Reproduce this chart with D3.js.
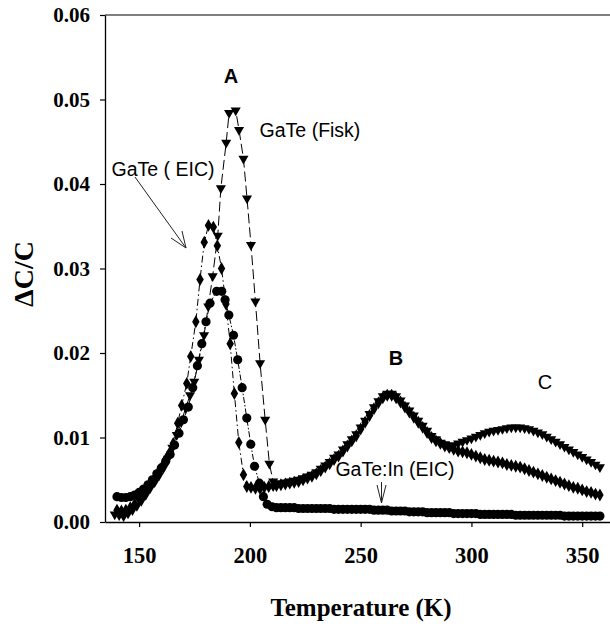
<!DOCTYPE html>
<html><head><meta charset="utf-8">
<script src="https://cdn.jsdelivr.net/npm/d3@7"></script>
<style>body{margin:0;background:#fff}svg{display:block}</style>
</head><body>
<svg id="c" width="610" height="628"></svg>
<script>
// ---- data ----
const xTicks = [150, 200, 250, 300, 350];
const yTicks = [0.00, 0.01, 0.02, 0.03, 0.04, 0.05, 0.06];

// GaTe (Fisk) - down triangles, dashed
const fiskT = [139,141,143,145,147,149,151,153,155,157,159,161,163,165,167,169,171,173,174.9,177,179.3,181.2,183.2,185.5,186.9,189.3,190.6,193.6,195.1,197.1,198.7,200.5,202.5,204.6,206.9,208.8,210.5,
  212,214,216,218,220,222,224,226,228,230,232,234,236,238,240,242,244,246,248,250,252,254,256,258,260,262,264,266,268,270,272,274,276,278,280,282,284,286,288,290,
  292,294,296,298,300,302,304,306,308,310,312,314,316,318,320,322,324,326,328,330,332,334,336,338,340,342,344,346,348,350,352,354,356,358];
const fiskV = [0.0009,0.0008,0.0007,0.0010,0.0014,0.0019,0.0025,0.0032,0.0040,0.0047,0.0055,0.0064,0.0075,0.0088,0.0103,0.0118,0.0135,0.0150,0.0166,0.0192,0.0221,0.0255,0.0291,0.0339,0.0395,0.0449,0.0484,0.0487,0.0464,0.0430,0.0383,0.0328,0.0261,0.0188,0.0121,0.0069,0.0048,
  0.0045,0.0046,0.0047,0.0048,0.0049,0.0050,0.0052,0.0054,0.0056,0.0059,0.0063,0.0067,0.0071,0.0076,0.0080,0.0086,0.0092,0.0098,0.0104,0.0112,0.0120,0.0128,0.0136,0.0143,0.0149,0.0152,0.0152,0.0149,0.0144,0.0138,0.0132,0.0126,0.0120,0.0114,0.0108,0.0102,0.0098,0.0094,0.0092,0.0090,
  0.0091,0.0093,0.0095,0.0097,0.0099,0.0101,0.0103,0.0105,0.0107,0.0108,0.0109,0.0110,0.0111,0.0112,0.0112,0.0112,0.0111,0.0110,0.0108,0.0106,0.0104,0.0101,0.0098,0.0095,0.0092,0.0089,0.0086,0.0083,0.0080,0.0077,0.0074,0.0071,0.0068,0.0065];

// GaTe (EIC) - diamonds, dash-dot
const eicT = [140,142,144,146,148,150,152,154,156,158,160,162,164,165.4,167.4,169.2,171.5,173.3,175.6,177.5,179.4,181.3,183.5,185.3,187.2,189.2,191.1,193,195,197.1,198.6,200.5,202.5,204.5,206.5,208.5,210.5,
  212,214,216,218,220,222,224,226,228,230,232,234,236,238,240,242,244,246,248,250,252,254,256,258,260,262,264,266,268,270,272,274,276,278,280,282,284,286,288,290,
  292,294,296,298,300,302,304,306,308,310,312,314,316,318,320,322,324,326,328,330,332,334,336,338,340,342,344,346,348,350,352,354,356,358];
const eicV = [0.0014,0.0013,0.0014,0.0017,0.0021,0.0027,0.0033,0.0040,0.0048,0.0056,0.0064,0.0074,0.0083,0.0093,0.0117,0.0138,0.0164,0.0196,0.0237,0.0287,0.0331,0.0351,0.0349,0.0327,0.0300,0.0258,0.0211,0.0152,0.0094,0.0056,0.0042,0.0041,0.0040,0.0040,0.0041,0.0042,0.0043,
  0.0043,0.0044,0.0045,0.0046,0.0047,0.0048,0.0050,0.0052,0.0054,0.0057,0.0061,0.0065,0.0069,0.0074,0.0078,0.0084,0.0090,0.0096,0.0102,0.0110,0.0118,0.0126,0.0134,0.0141,0.0147,0.0150,0.0150,0.0147,0.0142,0.0136,0.0130,0.0124,0.0118,0.0112,0.0106,0.0100,0.0096,0.0093,0.0090,0.0088,
  0.0086,0.0084,0.0083,0.0082,0.0080,0.0078,0.0076,0.0074,0.0073,0.0072,0.0071,0.0070,0.0068,0.0067,0.0066,0.0065,0.0063,0.0061,0.0059,0.0057,0.0055,0.0053,0.0051,0.0049,0.0047,0.0045,0.0043,0.0041,0.0040,0.0038,0.0036,0.0035,0.0033,0.0032];

// GaTe:In (EIC) - circles
const inT = [140,142,144,146,148,150,152,154,156,158,160,162,164,166,168,170,172.2,174.2,176.3,178.3,180.2,182,185,187.3,188.8,190.5,192.6,194.5,196.5,198.6,200.4,202.1,204.3,206.1,207.8,210,
  212,214,216,218,220,222,224,226,228,230,232,234,236,238,240,242,244,246,248,250,252,254,256,258,260,262,264,266,268,270,272,274,276,278,280,282,284,286,288,290,
  292,294,296,298,300,302,304,306,308,310,312,314,316,318,320,322,324,326,328,330,332,334,336,338,340,342,344,346,348,350,352,354,356,358];
const inV = [0.0030,0.0029,0.0029,0.0030,0.0032,0.0035,0.0039,0.0044,0.0050,0.0057,0.0064,0.0072,0.0080,0.0091,0.0105,0.0121,0.0136,0.0159,0.0185,0.0211,0.0237,0.0259,0.0273,0.0273,0.0263,0.0245,0.0221,0.0192,0.0159,0.0123,0.0092,0.0066,0.0046,0.0030,0.0021,0.0018,
  0.0017,0.0017,0.0017,0.0017,0.0017,0.0016,0.0016,0.0016,0.0016,0.0016,0.0016,0.0016,0.0016,0.0015,0.0015,0.0015,0.0015,0.0015,0.0015,0.0015,0.0015,0.0015,0.0014,0.0014,0.0014,0.0014,0.0013,0.0013,0.0013,0.0013,0.0012,0.0012,0.0012,0.0012,0.0011,0.0011,0.0011,0.0011,0.0011,0.0011,
  0.0010,0.0010,0.0010,0.0010,0.0010,0.0010,0.0009,0.0009,0.0009,0.0009,0.0009,0.0009,0.0009,0.0009,0.0008,0.0008,0.0008,0.0008,0.0008,0.0008,0.0008,0.0008,0.0008,0.0008,0.0008,0.0007,0.0007,0.0007,0.0007,0.0007,0.0007,0.0007,0.0007,0.0007];

// ---- drawing ----
const svg = d3.select('#c');
const L = 105, R = 611, T = 15, B = 522;
const x = d3.scaleLinear().domain([134.6, 363]).range([L, R]);
const y = d3.scaleLinear().domain([0, 0.06]).range([B, T]);

// frame
svg.append('line').attr('x1', L).attr('x2', R).attr('y1', T).attr('y2', T).attr('stroke', '#000').attr('stroke-width', 1.2);

const gx = svg.append('g').attr('transform', `translate(0,${B})`)
  .call(d3.axisBottom(x).tickValues(xTicks).tickSize(5).tickPadding(20).tickSizeOuter(0).tickFormat(d3.format('d')));
const gy = svg.append('g').attr('transform', `translate(${L},0)`)
  .call(d3.axisLeft(y).tickValues(yTicks).tickSize(5).tickPadding(10).tickSizeOuter(0).tickFormat(d3.format('.2f')));
[gx, gy].forEach(g => {
  g.select('.domain').attr('stroke', '#000').attr('stroke-width', 1.3);
  g.selectAll('.tick line').attr('stroke', '#000').attr('stroke-width', 1.2);
  g.selectAll('.tick text').attr('font-family', '"Liberation Serif", "Times New Roman", serif')
    .attr('font-weight', 'bold').attr('font-size', 21).attr('fill', '#000');
});
gx.selectAll('.tick text').attr('font-size', 22.5);

// axis titles
svg.append('text').attr('x', 361).attr('y', 616).attr('text-anchor', 'middle')
  .attr('font-family', '"Liberation Serif", serif').attr('font-weight', 'bold').attr('font-size', 25).text('Temperature (K)');
svg.append('text').attr('transform', 'translate(33,274) rotate(-90)').attr('text-anchor', 'middle')
  .attr('font-family', '"Liberation Serif", serif').attr('font-weight', 'bold').attr('font-size', 28).text('ΔC/C');

function series(Ts, Vs, sym, size, dash, rot) {
  const data = Ts.map((t, i) => [t, Vs[i]]);
  svg.append('path').datum(data)
    .attr('d', d3.line().x(d => x(d[0])).y(d => y(d[1])))
    .attr('fill', 'none').attr('stroke', '#000').attr('stroke-width', 1).attr('stroke-dasharray', dash);
  svg.append('g').selectAll('path').data(data).join('path')
    .attr('transform', d => `translate(${x(d[0])},${y(d[1])}) rotate(${rot})`)
    .attr('d', d3.symbol().type(sym).size(size)).attr('fill', '#000');
}
series(inT, inV, d3.symbolCircle, 66, '6,2,1.5,2', 0);
series(eicT, eicV, d3.symbolDiamond, 48, '7,3,1.5,3', 0);
series(fiskT, fiskV, d3.symbolTriangle, 44, '10,4', 180);

// annotations
const sans = 'Arial, "Liberation Sans", sans-serif';
function label(tx, px, py, size, weight) {
  svg.append('text').attr('x', px).attr('y', py).attr('text-anchor', 'middle')
    .attr('font-family', sans).attr('font-size', size).attr('font-weight', weight).text(tx);
}
label('A', 231, 83, 20, 'bold');
label('GaTe (Fisk)', 310, 137, 19.5, 'normal');
label('GaTe ( EIC)', 163, 176, 19.5, 'normal');
label('B', 396, 365, 20, 'bold');
label('C', 545, 389, 20, 'normal');
label('GaTe:In (EIC)', 395, 476, 19.5, 'normal');

const ar = svg.append('g').attr('stroke', '#222').attr('stroke-width', 1).attr('fill', 'none');
ar.append('line').attr('x1', 135).attr('y1', 177).attr('x2', 186).attr('y2', 248);
ar.append('line').attr('x1', 171).attr('y1', 238).attr('x2', 186).attr('y2', 248);
ar.append('line').attr('x1', 182).attr('y1', 231).attr('x2', 186).attr('y2', 248);
ar.append('line').attr('x1', 381.5).attr('y1', 482).attr('x2', 381.5).attr('y2', 503);
ar.append('line').attr('x1', 377).attr('y1', 485).attr('x2', 381.5).attr('y2', 503);
ar.append('line').attr('x1', 386).attr('y1', 485).attr('x2', 381.5).attr('y2', 503);
</script>
</body></html>
